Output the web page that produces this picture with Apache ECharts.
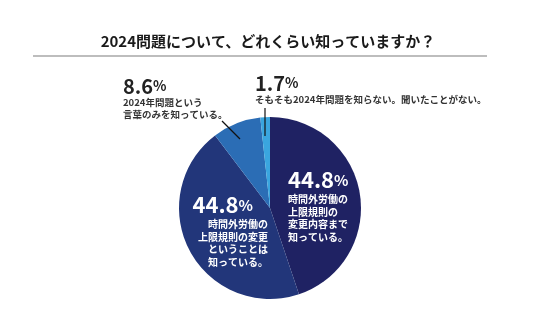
<!DOCTYPE html>
<html><head><meta charset="utf-8">
<script src="https://cdn.jsdelivr.net/npm/echarts@6/dist/echarts.min.js"></script>
<style>html,body{margin:0;padding:0;background:#fff}#c{width:536px;height:335px}</style>
</head><body><div id="c"></div>
<script>
const titleText = '2024問題について、どれくらい知っていますか？';
const categories = [
  '時間外労働の\n上限規則の\n変更内容まで\n知っている。',
  '時間外労働の\n上限規則の変更\nということは\n知っている。',
  '2024年問題という\n言葉のみを知っている。',
  'そもそも2024年問題を知らない。聞いたことがない。'
];
const values = [44.8, 44.8, 8.6, 1.7];
const colors = ['#1f2263', '#22367a', '#2b6db5', '#3aa6df'];

const FONT = '"Noto Sans CJK JP", "Noto Sans", sans-serif';
const chart = echarts.init(document.getElementById('c'));

const labelPos = [
  {x: 288, y: 167, align: 'left'},
  {x: 268, y: 192, align: 'right'},
  {x: 123, y: 75, align: 'left'},
  {x: 255, y: 72, align: 'left'}
];

function fmt(p) {
  const lines = categories[p.dataIndex].split('\n');
  const i = p.dataIndex;
  let n, pc, t;
  if (i === 0) { n = 'ni'; pc = 'pi'; t = 'ti'; }
  else if (i === 1) { n = 'ni'; pc = 'pl'; t = 'ti'; }
  else { n = 'no'; pc = 'po'; t = 'to'; }
  const num = '{' + n + '|' + p.value.toFixed(1) + '}{' + pc + '|%}';
  return num + '\n' + lines.map(l => '{' + t + '|' + l + '}').join('\n');
}

chart.setOption({
  animation: false,
  title: {
    text: titleText, left: 'center', top: 29,
    textStyle: {fontFamily: FONT, fontSize: 15, fontWeight: 'bold', color: '#1a1a1a'}
  },
  graphic: [
    {type: 'line', shape: {x1: 33, y1: 56, x2: 487, y2: 56}, style: {stroke: '#bdbdbd', lineWidth: 2}},
    {type: 'line', shape: {x1: 222, y1: 121, x2: 240, y2: 139}, style: {stroke: '#111', lineWidth: 1.2}, z: 10},
    {type: 'line', shape: {x1: 265, y1: 108, x2: 265, y2: 136}, style: {stroke: '#111', lineWidth: 1.2}, z: 10}
  ],
  series: [{
    type: 'pie',
    center: [270, 208],
    radius: [0, 91],
    startAngle: 90,
    clockwise: true,
    data: values.map((v, i) => ({value: v, name: categories[i], itemStyle: {color: colors[i]}})),
    label: {
      show: true,
      position: 'outside',
      formatter: fmt,
      overflow: 'none',
      width: 400,
      rich: {
        ni: {fontFamily: FONT, fontSize: 22, fontWeight: 'bold', color: '#fff', lineHeight: 26},
        pi: {fontFamily: FONT, fontSize: 15, fontWeight: 'bold', color: '#fff', lineHeight: 26},
        pl: {fontFamily: FONT, fontSize: 15, fontWeight: 'bold', color: '#fff', lineHeight: 26, padding: [0, 15, 0, 0]},
        ti: {fontFamily: FONT, fontSize: 10, fontWeight: 'bold', color: '#fff', lineHeight: 12.5},
        no: {fontFamily: FONT, fontSize: 20, fontWeight: 'bold', color: '#222', lineHeight: 22},
        po: {fontFamily: FONT, fontSize: 14, fontWeight: 'bold', color: '#222', lineHeight: 22},
        to: {fontFamily: FONT, fontSize: 9.5, fontWeight: 'bold', color: '#333', lineHeight: 11.5}
      }
    },
    labelLine: {show: false},
    labelLayout: function (p) {
      const lp = labelPos[p.dataIndex];
      return {x: lp.x, y: lp.y, align: lp.align, verticalAlign: 'top'};
    },
    emphasis: {disabled: true}
  }]
});
</script></body></html>
